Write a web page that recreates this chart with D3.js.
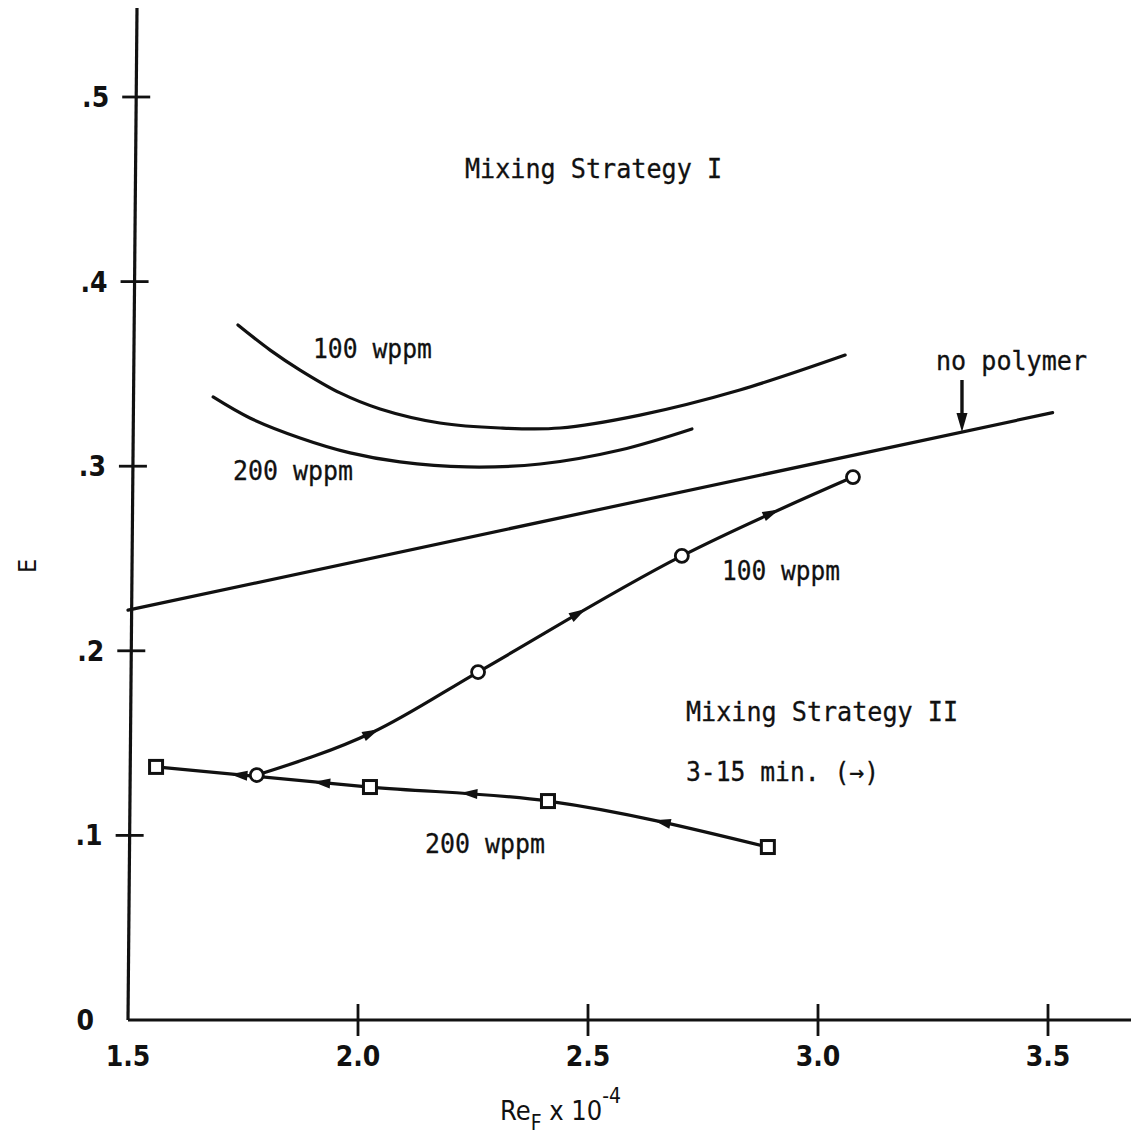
<!DOCTYPE html>
<html>
<head>
<meta charset="utf-8">
<script src="https://cdn.jsdelivr.net/npm/d3@7"></script>
<style>
  html, body { margin: 0; padding: 0; background: #fff; }
  svg { display: block; }
  .mono { font-family: "DejaVu Sans Mono", "Liberation Mono", monospace; fill: #111; stroke: #111; stroke-width: 0.3; }
  .tick-label { font-family: "DejaVu Sans Condensed", "DejaVu Sans", sans-serif; font-weight: 600; fill: #111; }
</style>
</head>
<body>
<svg id="chart" width="1131" height="1144"></svg>
<script>
// Axis ticks
const xTicks = [1.5, 2.0, 2.5, 3.0, 3.5];
const xTickLabels = ["1.5", "2.0", "2.5", "3.0", "3.5"];
const yTicks = [0, 0.1, 0.2, 0.3, 0.4, 0.5];
const yTickLabels = ["0", ".1", ".2", ".3", ".4", ".5"];

// Mixing Strategy I curves (Re_F x 1e-4, E)
const strat1_100 = [[1.739, 0.3765], [1.809, 0.3629], [1.874, 0.3521], [1.961, 0.3397],
                    [2.048, 0.3310], [2.178, 0.3234], [2.309, 0.3207], [2.439, 0.3207],
                    [2.613, 0.3277], [2.830, 0.3413], [3.059, 0.3602]];
const strat1_200 = [[1.685, 0.3375], [1.765, 0.3261], [1.874, 0.3153], [1.983, 0.3072],
                    [2.091, 0.3023], [2.237, 0.2996], [2.396, 0.3012], [2.570, 0.3088],
                    [2.726, 0.3202]];

// No polymer reference line
const noPolymer = [[1.5, 0.222], [3.51, 0.329]];
const noPolymerArrowX = 3.313;

// Mixing Strategy II, 100 wppm (circles) and traced curve
const strat2_100_pts = [[1.780, 0.1327], [2.261, 0.1885], [2.704, 0.2514], [3.076, 0.2941]];
const strat2_100_curve = [[1.780, 0.1327], [2.033, 0.1560], [2.261, 0.1885], [2.704, 0.2514], [3.076, 0.2941]];
const strat2_100_arrows = [2.03, 2.48, 2.90];

// Mixing Strategy II, 200 wppm (squares)
const strat2_200_pts = [[1.561, 0.1371], [2.026, 0.1262], [2.413, 0.1186], [2.891, 0.0937]];
const strat2_200_arrows = [1.74, 1.92, 2.24, 2.66];

const svg = d3.select("#chart");
const x = d3.scaleLinear().domain([1.5, 3.5]).range([128, 1048]);
const y = d3.scaleLinear().domain([0, 0.5]).range([1020, 97]);

const ink = "#111";
const lw = 3.2;

// the vertical axis leans slightly to the right toward the top
const axisTopY = 8, axisLean = 9 / 1012;
const axisX = py => x(1.5) + (y(0) - py) * axisLean;

// Axes
svg.append("line")
  .attr("x1", axisX(y(0))).attr("y1", y(0))
  .attr("x2", axisX(axisTopY)).attr("y2", axisTopY)
  .attr("stroke", ink).attr("stroke-width", 3.2);
svg.append("line")
  .attr("x1", x(1.5)).attr("y1", y(0))
  .attr("x2", 1131).attr("y2", y(0))
  .attr("stroke", ink).attr("stroke-width", 3.2);

// X ticks
const xg = svg.append("g");
xTicks.forEach((t, i) => {
  if (t !== 1.5) {
    xg.append("line").attr("x1", x(t)).attr("x2", x(t))
      .attr("y1", y(0) - 16).attr("y2", y(0) + 16)
      .attr("stroke", ink).attr("stroke-width", 2.8);
  }
  xg.append("text").attr("class", "tick-label")
    .attr("x", x(t)).attr("y", 1066)
    .attr("text-anchor", "middle").attr("font-size", 28)
    .text(xTickLabels[i]);
});

// Y ticks
const yg = svg.append("g");
yTicks.forEach((t, i) => {
  const py = y(t), ax = axisX(py);
  if (t !== 0) {
    yg.append("line").attr("x1", ax - 14).attr("x2", ax + 14)
      .attr("y1", py).attr("y2", py)
      .attr("stroke", ink).attr("stroke-width", 2.8);
  }
  yg.append("text").attr("class", "tick-label")
    .attr("x", t === 0 ? ax - 34 : ax - 27).attr("y", py)
    .attr("dy", "0.36em")
    .attr("text-anchor", "end").attr("font-size", 28)
    .text(yTickLabels[i]);
});

// Axis titles
svg.append("text")
  .attr("transform", "translate(36,566) rotate(-90)")
  .attr("text-anchor", "middle")
  .attr("font-family", "DejaVu Sans Condensed, DejaVu Sans, sans-serif")
  .attr("font-size", 25).attr("fill", ink)
  .text("E");

const xt = svg.append("text")
  .attr("x", 500).attr("y", 1120)
  .attr("font-family", "DejaVu Sans Condensed, DejaVu Sans, sans-serif")
  .attr("font-size", 27).attr("fill", ink);
xt.append("tspan").text("Re");
xt.append("tspan").attr("font-size", 21).attr("dy", 10).text("F");
xt.append("tspan").attr("dy", -10).text(" x 10");
xt.append("tspan").attr("font-size", 21).attr("dy", -17).text("-4");

// Curves
const catmull = d3.line().x(d => x(d[0])).y(d => y(d[1])).curve(d3.curveCatmullRom.alpha(0.5));
const smooth = d3.line().x(d => x(d[0])).y(d => y(d[1])).curve(d3.curveMonotoneX);
const straight = d3.line().x(d => x(d[0])).y(d => y(d[1]));

function drawPath(gen, data) {
  return svg.append("path").attr("d", gen(data))
    .attr("fill", "none").attr("stroke", ink)
    .attr("stroke-width", lw).attr("stroke-linecap", "round");
}

drawPath(catmull, strat1_100);
drawPath(catmull, strat1_200);
drawPath(straight, noPolymer);
const p100 = drawPath(smooth, strat2_100_curve);
const p200 = drawPath(smooth, strat2_200_pts);

// Arrowheads along a path at given x values; dir = +1 travels to the right, -1 to the left
function arrowsOn(pathSel, xs, dir) {
  const node = pathSel.node();
  const L = node.getTotalLength();
  const leftToRight = node.getPointAtLength(0).x < node.getPointAtLength(L).x;
  xs.forEach(xv => {
    const px = x(xv);
    let lo = 0, hi = L;
    for (let k = 0; k < 40; k++) {
      const mid = (lo + hi) / 2;
      const mx = node.getPointAtLength(mid).x;
      if ((mx < px) === leftToRight) lo = mid; else hi = mid;
    }
    const s = (lo + hi) / 2;
    const a = node.getPointAtLength(Math.max(0, s - 2));
    const b = node.getPointAtLength(Math.min(L, s + 2));
    let ang = Math.atan2(b.y - a.y, b.x - a.x) * 180 / Math.PI;
    if ((b.x - a.x) * dir < 0) ang += 180;
    const c = node.getPointAtLength(s);
    svg.append("path")
      .attr("d", "M8,0 L-9,-5 L-9,5 Z")
      .attr("transform", `translate(${c.x},${c.y}) rotate(${ang})`)
      .attr("fill", ink);
  });
}
arrowsOn(p100, strat2_100_arrows, +1);
arrowsOn(p200, strat2_200_arrows, -1);

// No polymer pointer arrow
const npY = y(noPolymer[0][1] + (noPolymer[1][1] - noPolymer[0][1]) *
  (noPolymerArrowX - noPolymer[0][0]) / (noPolymer[1][0] - noPolymer[0][0]));
svg.append("line")
  .attr("x1", x(noPolymerArrowX)).attr("x2", x(noPolymerArrowX))
  .attr("y1", 380).attr("y2", npY - 14)
  .attr("stroke", ink).attr("stroke-width", 3.4);
svg.append("path")
  .attr("d", `M${x(noPolymerArrowX)},${npY} l-5.5,-19 l11,0 Z`)
  .attr("fill", ink);

// Markers
svg.append("g").selectAll("circle").data(strat2_100_pts).join("circle")
  .attr("cx", d => x(d[0])).attr("cy", d => y(d[1])).attr("r", 6.5)
  .attr("fill", "#fff").attr("stroke", ink).attr("stroke-width", 2.8);
svg.append("g").selectAll("rect").data(strat2_200_pts).join("rect")
  .attr("x", d => x(d[0]) - 6.5).attr("y", d => y(d[1]) - 6.5)
  .attr("width", 13).attr("height", 13)
  .attr("fill", "#fff").attr("stroke", ink).attr("stroke-width", 3);

// Annotations
const notes = [
  { t: "Mixing Strategy I", x: 465, y: 178, w: 257 },
  { t: "100 wppm", x: 313, y: 358, w: 119 },
  { t: "200 wppm", x: 233, y: 480, w: 120 },
  { t: "no polymer", x: 936, y: 370, w: 151 },
  { t: "100 wppm", x: 722, y: 580, w: 118 },
  { t: "Mixing Strategy II", x: 686, y: 721, w: 272 },
  { t: "3-15 min. (\u2192)", x: 686, y: 781, w: 193 },
  { t: "200 wppm", x: 425, y: 853, w: 120 }
];
notes.forEach(n => {
  svg.append("text").attr("class", "mono")
    .attr("x", n.x).attr("y", n.y)
    .attr("font-size", 26)
    .attr("textLength", n.w).attr("lengthAdjust", "spacingAndGlyphs")
    .text(n.t);
});
</script>
</body>
</html>
